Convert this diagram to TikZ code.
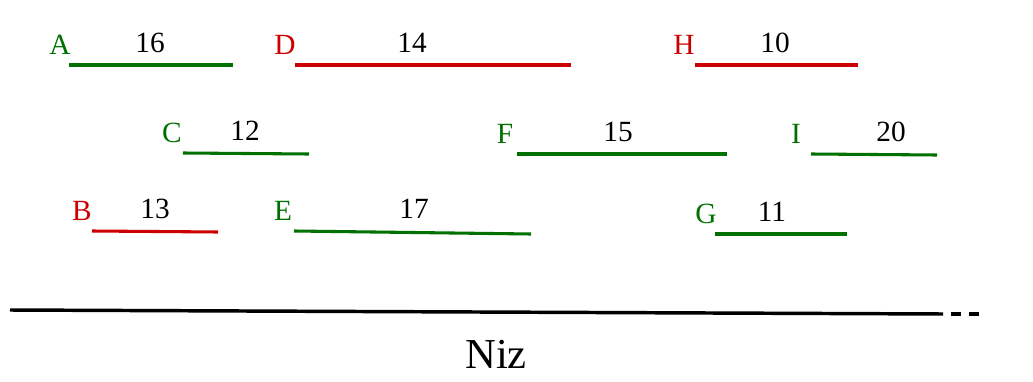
\documentclass[tikz,border=0pt]{standalone}
\usepackage{fontspec}
\setmainfont{Liberation Serif}
\definecolor{segok}{RGB}{0,112,0}
\definecolor{segbad}{RGB}{204,0,0}
\tikzset{
	seg/.style={line width=2.3pt},
	segname/.style={font=\fontsize{22}{26}\selectfont, inner sep=0pt},
	seglen/.style={font=\fontsize{22}{26}\selectfont, inner sep=0pt},
}
\begin{document}
\begin{tikzpicture}[x=0.75pt, y=-0.75pt]
		\useasboundingbox (0,0) rectangle (1033,382);
		% intervals: name/colour/start/end/length/x of length/x of name
		\foreach \n/\c/\xa/\ya/\xb/\yb/\l/\lx/\nx in {
			A/segok/69/65/233/65/16/150/60,
			D/segbad/295/65/571/65/14/412/285,
			H/segbad/695/65/858/65/10/775/684,
			C/segok/183/153/309/154/12/245/172,
			F/segok/517/154/727/154/15/618/505,
			I/segok/811/154/937/155/20/891/796,
			B/segbad/92/231/218/232/13/155/82,
			E/segok/294/231/531/234/17/414/283,
			G/segok/715/234/847/234/11/772/706}{
			\coordinate (\n-s) at (\xa,\ya);
			\coordinate (\n-e) at (\xb,\yb);
			\draw[seg, \c] (\n-s) -- (\n-e);
			\node[segname, text=\c] (\n-name) at (\nx,{\ya-20}) {\n};
			\node[seglen] (\n-len) at (\lx,{\ya-22}) {\l};
		}
		
		% the base array
		\coordinate (niz-s) at (10,310);
		\coordinate (niz-e) at (943,314);
		\coordinate (niz-d) at (982,314);
		\draw[line width=2.6pt] (niz-s) -- (niz-e);
		\draw[line width=2.6pt, dash pattern=on 7.5pt off 6pt] ([xshift=6pt]niz-e) -- (niz-d);
		\node[font=\fontsize{32}{38}\selectfont, inner sep=0pt] (niz) at (496,354) {Niz};
\end{tikzpicture}
\end{document}
